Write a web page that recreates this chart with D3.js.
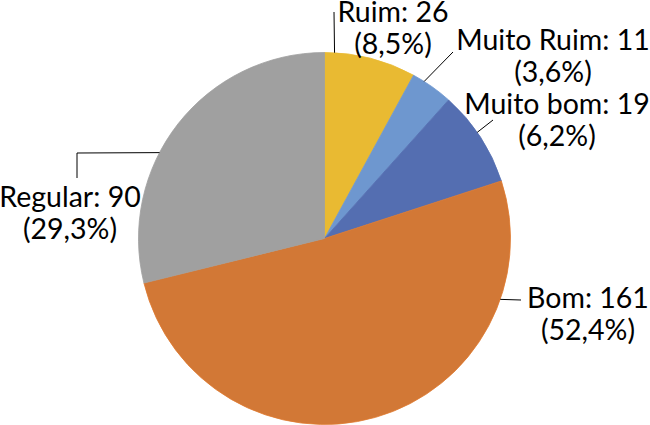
<!DOCTYPE html>
<html>
<head>
<meta charset="utf-8">
<script src="https://d3js.org/d3.v7.min.js"></script>
<style>
	body { margin: 0; background: #fff; }
	svg { display: block; }
	text { font-family: Lato, "Open Sans", sans-serif; font-size: 28.5px; fill: #000; }
</style>
</head>
<body>
<svg width="650" height="425"></svg>
<script>
// Data
var categories = ["Ruim", "Muito Ruim", "Muito bom", "Bom", "Regular"];
var values = [26, 11, 19, 161, 90]; // values printed in the labels
// slice sizes as drawn in the picture (they don't quite match the labels)
var sliceValues = [24.4, 11.3, 25.7, 157.1, 88.6];
var colors = ["#E9BA32", "#6E97CF", "#546EB1", "#D27836", "#A0A0A0"];

// Label layout: block centre x, first baseline y, leader attach angle (deg), leader path after attach
var labelX = [393, 553, 557, 588, 70];
var labelY = [22, 50, 114, 308, 207];
var attachAngle = [3.1, 32.4, 55.2, 109.1, 297.5];
var leaderPts = [
	[[334, 12]],
	[[453, 52]],
	[[493, 120]],
	[[521, 300]],
	[[77, 153], [77, 178]]
];

var svg = d3.select("svg"),
	width = +svg.attr("width"),
	height = +svg.attr("height");

var cx = 324.5, cy = 238.5, radius = 186;
var lineGap = 32;

var total = d3.sum(values);
var data = categories.map((c, i) => ({ name: c, value: values[i], size: sliceValues[i], color: colors[i], idx: i }));

var pie = d3.pie()
	.sort(null)
	.value((d) => d.size);

var arc = d3.arc()
	.innerRadius(0)
	.outerRadius(radius);

var g = svg.append("g")
	.attr("transform", "translate(" + cx + "," + cy + ")");

// Slices
g.selectAll("path.slice")
	.data(pie(data))
	.enter().append("path")
	.attr("class", "slice")
	.attr("d", arc)
	.attr("fill", (d) => d.data.color)
	.attr("stroke", (d) => d.data.idx == 3 ? "#E07A2E" : d.data.color)
	.attr("stroke-width", 0.8);

// Leader lines
var line = d3.line();
data.forEach((d, i) => {
	var a = attachAngle[i] * Math.PI / 180;
	var start = [cx + radius * Math.sin(a), cy - radius * Math.cos(a)];
	svg.append("path")
		.attr("d", line([start].concat(leaderPts[i])))
		.attr("fill", "none")
		.attr("stroke", "#000")
		.attr("stroke-width", 1);
});

// Labels
var fmt = (v) => (v / total * 100).toFixed(1).replace(".", ",") + "%";
var labels = svg.append("g")
	.selectAll("text")
	.data(data)
	.enter().append("text")
	.attr("text-anchor", "middle")
	.attr("x", (d) => labelX[d.idx])
	.attr("y", (d) => labelY[d.idx]);

labels.append("tspan")
	.text((d) => d.name + ": " + d.value);

labels.append("tspan")
	.attr("x", (d) => labelX[d.idx])
	.attr("dy", lineGap)
	.text((d) => "(" + fmt(d.value) + ")");
</script>
</body>
</html>
